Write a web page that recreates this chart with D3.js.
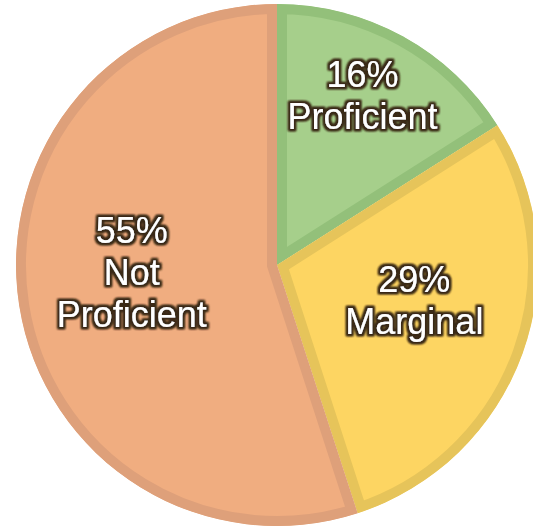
<!DOCTYPE html>
<html>
<head>
<meta charset="utf-8">
<script src="https://cdn.jsdelivr.net/npm/d3@7"></script>
<style>
  html, body { margin: 0; padding: 0; background: #fff; overflow: hidden; }
  svg { display: block; }
</style>
</head>
<body>
<svg id="chart"></svg>
<script>
// data
const categories = ['Proficient', 'Marginal', 'Not Proficient'];
const percents = [16, 29, 55];
const labelLines = [['16%', 'Proficient'], ['29%', 'Marginal'], ['55%', 'Not', 'Proficient']];

const fills = ['#a6cf8b', '#fdd562', '#f0ad80'];
const strokes = ['#93c07a', '#e6c45a', '#dea07a'];

const width = 533, height = 529;
const cx = 277, cy = 265, radius = 261;
const labelRadius = [190, 146, 145];
const labelShift = [[-6, -3], [0, -14], [-2, -16]];

const svg = d3.select('#chart').attr('width', width).attr('height', height);

const defs = svg.append('defs');
// halo sombre autour du texte
const f = defs.append('filter').attr('id', 'glow').attr('x', '-20%').attr('y', '-20%').attr('width', '140%').attr('height', '140%');
f.append('feMorphology').attr('in', 'SourceAlpha').attr('operator', 'dilate').attr('radius', 1.6).attr('result', 'thick');
f.append('feGaussianBlur').attr('in', 'thick').attr('stdDeviation', 1.3).attr('result', 'blur');
f.append('feFlood').attr('flood-color', '#3a2a18').attr('result', 'col');
f.append('feComposite').attr('in', 'col').attr('in2', 'blur').attr('operator', 'in').attr('result', 'shadow');
const m = f.append('feMerge');
m.append('feMergeNode').attr('in', 'shadow');
m.append('feMergeNode').attr('in', 'shadow');
m.append('feMergeNode').attr('in', 'SourceGraphic');

const data = categories.map((c, i) => ({ name: c, value: percents[i], i }));

const pie = d3.pie().value(d => d.value).sort(null);
const arcs = pie(data);

const arc = d3.arc().innerRadius(0).outerRadius(radius);
const sw = 10; // bordure intérieure de chaque part

const g = svg.append('g').attr('transform', `translate(${cx},${cy})`);

// clip chaque part sur elle-même pour avoir la bordure à l'intérieur
defs.selectAll('clipPath')
  .data(arcs)
  .enter()
  .append('clipPath')
  .attr('id', d => `clip${d.data.i}`)
  .append('path')
  .attr('d', arc);

g.selectAll('path.slice')
  .data(arcs)
  .enter()
  .append('path')
  .attr('class', 'slice')
  .attr('d', arc)
  .attr('clip-path', d => `url(#clip${d.data.i})`)
  .attr('fill', d => fills[d.data.i])
  .attr('stroke', d => strokes[d.data.i])
  .attr('stroke-width', sw * 2)
  .attr('stroke-linejoin', 'miter');

const fontSize = 36;
const lineH = 42;

arcs.forEach(d => {
  const r = labelRadius[d.data.i];
  const [cxL, cyL] = d3.arc().innerRadius(r).outerRadius(r).centroid(d);
  const lx = cxL + labelShift[d.data.i][0];
  const ly = cyL + labelShift[d.data.i][1];
  const lines = labelLines[d.data.i];
  const t = g.append('text')
    .attr('text-anchor', 'middle')
    .attr('font-family', '"Liberation Sans", Arial, sans-serif')
    .attr('font-size', fontSize)
    .attr('fill', '#ffffff')
    .attr('filter', 'url(#glow)');
  const startY = ly - (lines.length - 1) * lineH / 2 + fontSize * 0.36;
  lines.forEach((s, k) => {
    t.append('tspan').attr('x', lx).attr('y', startY + k * lineH).text(s);
  });
});
</script>
</body>
</html>
